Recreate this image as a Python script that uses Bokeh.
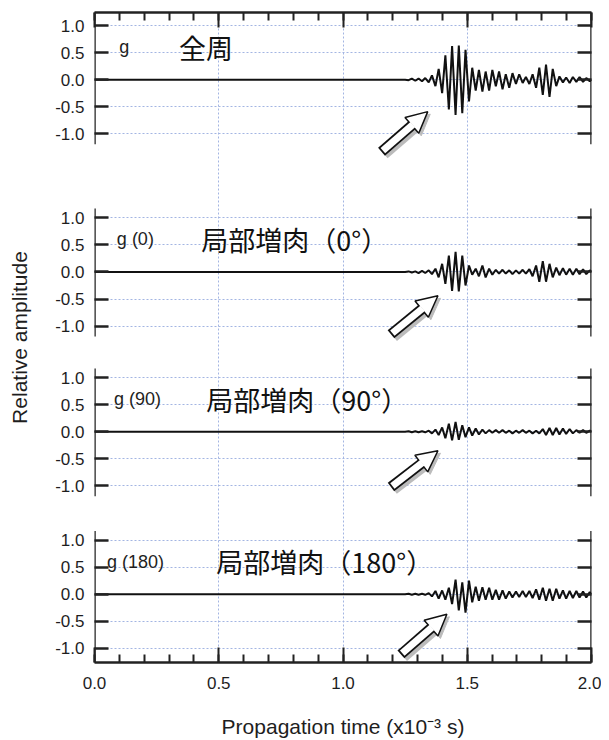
import math
from bokeh.plotting import figure
from bokeh.models import (Range1d, LinearAxis, FixedTicker, SingleIntervalTicker,
                          Arrow, NormalHead, PrintfTickFormatter)
from bokeh.core.properties import value
from bokeh.embed import file_html
from bokeh.resources import INLINE

# ---------------- data ----------------
# times (x10^-3 s) of the successive extrema of the waveforms
t_ms = [0.0,
        1.250, 1.264, 1.277, 1.291, 1.304, 1.318, 1.331, 1.345,
        1.358, 1.372, 1.385, 1.399, 1.412, 1.426, 1.439, 1.453,
        1.466, 1.480, 1.493, 1.507, 1.520, 1.534, 1.547, 1.561,
        1.574, 1.588, 1.601, 1.615, 1.628, 1.642, 1.655, 1.669,
        1.682, 1.696, 1.709, 1.723, 1.736, 1.750, 1.763, 1.777,
        1.790, 1.804, 1.817, 1.831, 1.844, 1.858, 1.871, 1.885,
        1.898, 1.912, 1.925, 1.939, 1.952, 1.966, 1.979, 1.993,
        2.000]

amp_full = [0.0,
            0.00, -0.01, 0.02, -0.02, 0.02, -0.03, 0.03, -0.05,
            0.08, -0.12, 0.20, -0.25, 0.45, -0.55, 0.62, -0.65,
            0.63, -0.62, 0.55, -0.40, 0.22, -0.20, 0.18, -0.22,
            0.15, -0.20, 0.18, -0.12, 0.15, -0.18, 0.10, -0.15,
            0.12, -0.08, 0.10, -0.06, 0.05, -0.08, 0.10, -0.15,
            0.22, -0.28, 0.28, -0.32, 0.20, -0.12, 0.06, -0.05,
            0.04, -0.06, 0.05, -0.04, 0.05, -0.04, 0.03, -0.03,
            0.0]

amp_0 = [0.0,
         0.00, 0.01, -0.01, 0.01, -0.02, 0.02, -0.02, 0.03,
         -0.04, 0.06, -0.10, 0.15, -0.22, 0.30, -0.35, 0.37,
         -0.36, 0.30, -0.25, 0.12, -0.05, 0.06, -0.08, 0.12,
         -0.10, 0.06, -0.05, 0.04, -0.03, 0.04, -0.03, 0.03,
         -0.04, 0.03, -0.03, 0.04, -0.03, 0.05, -0.08, 0.12,
         -0.18, 0.20, -0.18, 0.15, -0.10, 0.08, -0.06, 0.07,
         -0.05, 0.06, -0.05, 0.06, -0.04, 0.05, -0.04, 0.03,
         0.0]

amp_90 = [0.0,
          0.00, 0.01, -0.01, 0.01, -0.01, 0.01, -0.01, 0.02,
          -0.03, 0.04, -0.06, 0.08, -0.12, 0.15, -0.16, 0.18,
          -0.15, 0.12, -0.10, 0.08, -0.07, 0.06, -0.05, 0.04,
          -0.03, 0.03, -0.02, 0.03, -0.02, 0.03, -0.02, 0.02,
          -0.03, 0.02, -0.02, 0.03, -0.02, 0.02, -0.03, 0.02,
          -0.03, 0.05, -0.06, 0.07, -0.06, 0.07, -0.05, 0.06,
          -0.04, 0.05, -0.03, 0.03, -0.02, 0.03, -0.02, 0.02,
          0.0]

amp_180 = [0.0,
           0.00, 0.01, -0.01, 0.01, -0.01, 0.01, -0.01, 0.02,
           -0.04, 0.06, -0.08, 0.07, -0.10, 0.12, -0.18, 0.27,
           -0.30, 0.22, -0.34, 0.25, -0.15, 0.14, -0.12, 0.13,
           -0.10, 0.12, -0.10, 0.08, -0.10, 0.07, -0.08, 0.05,
           -0.06, 0.05, -0.05, 0.06, -0.05, 0.06, -0.07, 0.09,
           -0.10, 0.12, -0.12, 0.10, -0.12, 0.10, -0.08, 0.07,
           -0.08, 0.06, -0.07, 0.06, -0.06, 0.05, -0.06, 0.04,
           0.0]

series = [amp_full, amp_0, amp_90, amp_180]
panel_tags = ["g", "g (0)", "g (90)", "g (180)"]
panel_titles = ["全周", "局部増肉（0°）", "局部増肉（90°）", "局部増肉（180°）"]
y_tick_values = [-1.0, -0.5, 0.0, 0.5, 1.0]
x_label = "Propagation time (x10⁻³ s)"
y_label = "Relative amplitude"

# ---------------- layout ----------------
offsets = [9.5, 5.95, 3.0, 0.0]         # vertical offset of each stacked panel
y_lo, y_hi = -1.26, 10.74
FW, FH = 497, 650
px_x = FW / 2.0
px_y = FH / (y_hi - y_lo)

p = figure(frame_width=FW, frame_height=FH,
           x_range=Range1d(0, 2), y_range=Range1d(y_lo, y_hi),
           output_backend="svg", toolbar_location=None,
           min_border_left=94, min_border_right=10, min_border_top=12,
           min_border_bottom=0)
p.outline_line_color = None
p.background_fill_color = "white"

AX = "#222222"
TXT = "#1e1e1e"
# stacked y ticks
yticks = []
yover = {}
for off in offsets:
    for v in y_tick_values:
        yticks.append(off + v)
        yover[off + v] = "%.1f" % v

ya = p.yaxis[0]
ya.ticker = FixedTicker(ticks=yticks)
ya.major_label_overrides = yover
ya.axis_line_color = None
ya.major_tick_in = 14
ya.major_tick_out = 0
ya.major_tick_line_width = 2.5
ya.major_tick_line_color = AX
ya.minor_tick_line_color = None
ya.major_label_text_font = "Liberation Sans"
ya.major_label_text_font_size = "17px"
ya.major_label_text_color = TXT
ya.major_label_standoff = 10
ya.axis_label = y_label
ya.axis_label_text_font = "Liberation Sans"
ya.axis_label_text_font_size = "21px"
ya.axis_label_text_font_style = "normal"
ya.axis_label_text_color = TXT
ya.axis_label_standoff = 21

ra = LinearAxis(ticker=FixedTicker(ticks=yticks), major_label_text_color=None,
                major_label_text_font_size="1px",
                axis_line_color=None, major_tick_in=14, major_tick_out=0,
                major_tick_line_width=2.5, major_tick_line_color=AX,
                minor_tick_line_color=None, major_label_standoff=0)
p.add_layout(ra, "right")

xa = p.xaxis[0]
xa.ticker = SingleIntervalTicker(interval=0.5, num_minor_ticks=5)
xa.formatter = PrintfTickFormatter(format="%.1f")
xa.axis_line_width = 2.5
xa.axis_line_color = AX
xa.major_tick_in = 15
xa.major_tick_out = 0
xa.minor_tick_in = 8
xa.minor_tick_out = 0
xa.major_tick_line_width = 2
xa.minor_tick_line_width = 2
xa.major_tick_line_color = AX
xa.minor_tick_line_color = AX
xa.major_label_text_font = "Liberation Sans"
xa.major_label_text_font_size = "17px"
xa.major_label_text_color = TXT
xa.major_label_standoff = 14
xa.axis_label = x_label
xa.axis_label_text_font = "Liberation Sans"
xa.axis_label_text_font_size = "21px"
xa.axis_label_text_font_style = "normal"
xa.axis_label_text_color = TXT
xa.axis_label_standoff = 23

ta = LinearAxis(ticker=SingleIntervalTicker(interval=0.5, num_minor_ticks=5),
                major_label_text_color=None, major_label_text_font_size="1px",
                major_label_standoff=0,
                axis_line_width=2.5, axis_line_color=AX,
                major_tick_in=15, major_tick_out=0, minor_tick_in=8, minor_tick_out=0,
                major_tick_line_width=2, minor_tick_line_width=2,
                major_tick_line_color=AX, minor_tick_line_color=AX)
p.add_layout(ta, "above")

# grids (light blue dotted)
p.xgrid.ticker = SingleIntervalTicker(interval=0.5)
p.ygrid.ticker = FixedTicker(ticks=yticks)
for g in (p.xgrid[0], p.ygrid[0]):
    g.grid_line_color = "#a3b5e2"
    g.grid_line_dash = "2 2"
    g.grid_line_width = 1

# broken vertical frame lines (left & right) of each panel
seg_x0, seg_y0, seg_y1 = [], [], []
for i, off in enumerate(offsets):
    lo = off - 1.19 if i < 3 else y_lo
    hi = off + 1.17 if i > 0 else y_hi
    for xx in (0.0, 2.0):
        seg_x0.append(xx)
        seg_y0.append(lo)
        seg_y1.append(hi)
p.segment(x0=seg_x0, y0=seg_y0, x1=seg_x0, y1=seg_y1, line_color=AX, line_width=2.5)

# waveforms
for off, amps in zip(offsets, series):
    p.line(t_ms, [a + off for a in amps], line_color="#111111", line_width=2)

# panel labels
tag_x = [0.10, 0.09, 0.078, 0.05]
title_x = [0.34, 0.43, 0.45, 0.49]
lab_rel = 0.6
p.text(x=tag_x, y=[o + lab_rel for o in offsets], text=panel_tags,
       text_font=value("Liberation Sans"), text_font_size="18px",
       text_color=TXT, text_baseline="middle", text_align="left")
p.text(x=title_x, y=[o + lab_rel for o in offsets], text=panel_titles,
       text_font=value("Noto Sans CJK JP"), text_font_size="27px",
       text_color="#111111", text_baseline="middle", text_align="left")

# hollow arrows
arr_tail_x = [1.155, 1.193, 1.193, 1.233]
arr_tail_r = [-1.33, -1.15, -1.02, -1.11]
arr_tip_x = [1.341, 1.382, 1.382, 1.418]
arr_tip_r = [-0.59, -0.44, -0.35, -0.37]
HS = 21
for off, x0, r0, x1, r1 in zip(offsets, arr_tail_x, arr_tail_r, arr_tip_x, arr_tip_r):
    y0, y1 = off + r0, off + r1
    dxp, dyp = (x1 - x0) * px_x, (y1 - y0) * px_y
    L = math.hypot(dxp, dyp)
    ux, uy = dxp / L, dyp / L

    def pt(d):
        return x0 + ux * d / px_x, y0 + uy * d / px_y

    # shadow
    sx, sy = 2.5 / px_x, -2.5 / px_y
    bx, by = pt(L - HS + 2)
    p.add_layout(Arrow(x_start=x0 + sx, y_start=y0 + sy, x_end=bx + sx, y_end=by + sy,
                       line_color="#bbbbbb", line_width=11, end=None))
    p.add_layout(Arrow(x_start=x0 + sx, y_start=y0 + sy, x_end=x1 + sx, y_end=y1 + sy,
                       line_alpha=0,
                       end=NormalHead(size=HS, fill_color="#bbbbbb", line_color="#bbbbbb")))
    # black outline shaft
    p.add_layout(Arrow(x_start=x0, y_start=y0, x_end=bx, y_end=by,
                       line_color="#111111", line_width=10.5, end=None))
    # head
    p.add_layout(Arrow(x_start=x0, y_start=y0, x_end=x1, y_end=y1, line_alpha=0,
                       end=NormalHead(size=HS, fill_color="white", line_color="#111111",
                                      line_width=1.5)))
    # white inner shaft
    wx0, wy0 = pt(1.8)
    wx1, wy1 = pt(L - HS + 1.2)
    p.add_layout(Arrow(x_start=wx0, y_start=wy0, x_end=wx1, y_end=wy1,
                       line_color="white", line_width=7, end=None))

open("out.html", "w").write(file_html(p, INLINE, "chart"))
